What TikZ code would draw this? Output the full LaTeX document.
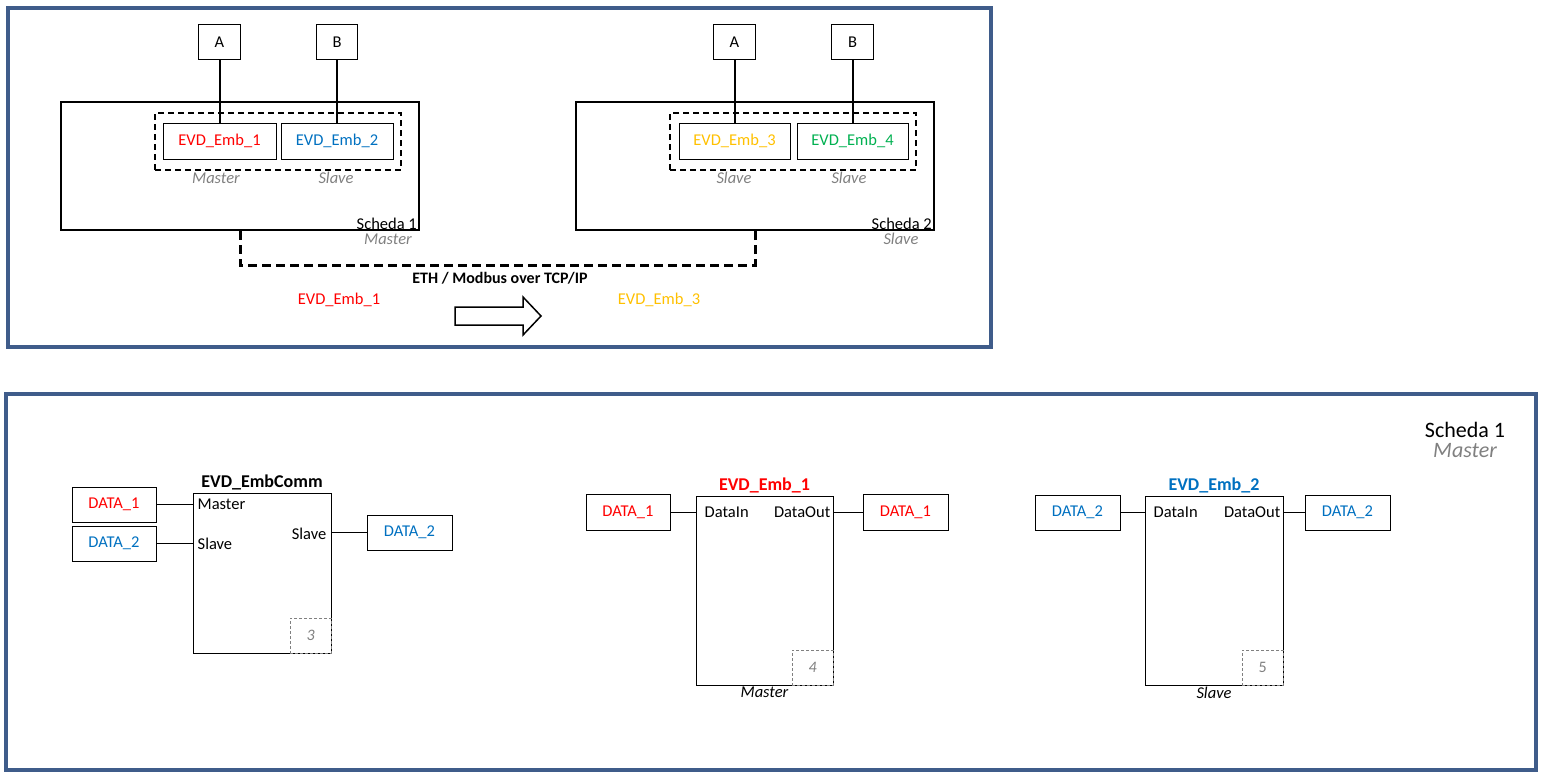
\documentclass[tikz,border=0pt]{standalone}
\usepackage{fontspec}
\setmainfont{Carlito}
\usetikzlibrary{positioning}
\definecolor{frameblue}{RGB}{63,92,138}
\definecolor{embred}{RGB}{255,0,0}
\definecolor{embblue}{RGB}{0,112,192}
\definecolor{embamber}{RGB}{255,192,0}
\definecolor{embgreen}{RGB}{0,176,80}
\definecolor{labelgray}{RGB}{128,128,128}
\tikzset{
  frame/.style={draw=frameblue, line width=4pt},
  box/.style={draw, line width=1pt, inner sep=0pt, font=\fontsize{16.5}{18}\selectfont},
  card/.style={draw, line width=2pt, inner sep=0pt},
  group/.style={draw, line width=2pt, dash pattern=on 6pt off 4pt, inner sep=0pt},
  eth/.style={line width=3pt, dash pattern=on 9pt off 5pt},
  role/.style={text=labelgray, font=\fontsize{16.5}{18}\selectfont\itshape, inner sep=0pt},
  port/.style={inner sep=0pt, font=\fontsize{16.5}{18}\selectfont},
  corner/.style={draw=labelgray, densely dashed, line width=0.7pt, minimum width=41pt, minimum height=35pt, inner sep=0pt, text=labelgray, font=\fontsize{16}{18}\selectfont},
  title/.style={inner sep=2pt, font=\fontsize{18}{20}\selectfont\bfseries}
}
\begin{document}
\begin{tikzpicture}[x=1pt,y=-1pt]
  \useasboundingbox (0,0) rectangle (1541,776);
  % frames
  \draw[frame] (8,8) rectangle (991,347);
  \draw[frame] (6,394) rectangle (1536,770);

  % Scheda 1 (top)
  \node[card, minimum width=358pt, minimum height=128pt] (scheda1) at (240,166) {};
  \node[group, minimum width=246pt, minimum height=57pt] (grp1) at (278,141.5) {};
  \node[box, minimum width=113pt, minimum height=36pt, text=embred] (emb1) at (219.5,141) {EVD\_Emb\_1};
  \node[box, minimum width=112pt, minimum height=36pt, text=embblue] (emb2) at (337,141) {EVD\_Emb\_2};
  \node[box, minimum width=42pt, minimum height=35pt] (a1) at (219.5,42.5) {A};
  \node[box, minimum width=41pt, minimum height=35pt] (b1) at (337,42.5) {B};
  \draw[line width=2pt] (a1) -- (emb1);
  \draw[line width=2pt] (b1) -- (emb2);
  \node[role] at (216,178) {Master};
  \node[role] at (336,178) {Slave};
  \node[port, anchor=south east] at ([xshift=-3pt,yshift=1pt]scheda1.south east) {Scheda 1};
  \node[role] at (388,239) {Master};

  % Scheda 2 (top)
  \node[card, minimum width=358pt, minimum height=128pt] (scheda2) at (755,166) {};
  \node[group, minimum width=246pt, minimum height=57pt] (grp2) at (793,141.5) {};
  \node[box, minimum width=111pt, minimum height=36pt, text=embamber] (emb3) at (734.5,141) {EVD\_Emb\_3};
  \node[box, minimum width=111pt, minimum height=36pt, text=embgreen] (emb4) at (852.5,141) {EVD\_Emb\_4};
  \node[box, minimum width=42pt, minimum height=35pt] (a2) at (734.5,42.5) {A};
  \node[box, minimum width=42pt, minimum height=35pt] (b2) at (852.5,42.5) {B};
  \draw[line width=2pt] (a2) -- (emb3);
  \draw[line width=2pt] (b2) -- (emb4);
  \node[role] at (734,178) {Slave};
  \node[role] at (849,178) {Slave};
  \node[port, anchor=south east] at ([xshift=-3pt,yshift=1pt]scheda2.south east) {Scheda 2};
  \node[role] at (901,239) {Slave};

  % link
  \draw[eth] (scheda1.south) -- ++(0,34) -| (scheda2.south);
  \node[port, font=\fontsize{16}{18}\selectfont\bfseries] (ethlbl) at (500,278) {ETH / Modbus over TCP/IP};
  \node[port, text=embred] (src) at (339,300) {EVD\_Emb\_1};
  \node[port, text=embamber] (dst) at (659,300) {EVD\_Emb\_3};
  \draw[line width=1.5pt, line join=miter] (455,307) -- (523,307) -- (523,297) -- (541,316)
    -- (523,335) -- (523,325) -- (455,325) -- cycle;

  % Scheda 1 (bottom)
  \node[inner sep=0pt, anchor=base, align=center, font=\fontsize{22}{20}\selectfont] (sch1) at (1465,457)
    {Scheda 1\\{\color{labelgray}\itshape Master}};

  % EVD_EmbComm
  \node[box, minimum width=138pt, minimum height=160pt] (comm) at (262,573) {};
  \node[title, anchor=south] at (comm.north) {EVD\_EmbComm};
  \node[corner, anchor=south east, font=\fontsize{16}{18}\selectfont\itshape] at (comm.south east) {3};
  \node[box, minimum width=84pt, minimum height=35pt, text=embred] (d1) at (114,504.5) {DATA\_1};
  \node[box, minimum width=84pt, minimum height=35pt, text=embblue] (d2) at (114,543.5) {DATA\_2};
  \node[box, minimum width=85pt, minimum height=35pt, text=embblue] (d3) at (409.5,532.5) {DATA\_2};
  \draw (d1) -- (d1 -| comm.west);
  \draw (d2) -- (d2 -| comm.west);
  \draw (d3) -- (d3 -| comm.east);
  \node[port, anchor=west] at ([xshift=5pt]comm.west |- d1) {Master};
  \node[port, anchor=west] at ([xshift=5pt]comm.west |- d2) {Slave};
  \node[port, anchor=east] at ([xshift=-5pt,yshift=-1pt]comm.east |- d3) {Slave};

  % EVD_Emb_1
  \node[box, minimum width=137pt, minimum height=189pt] (blk1) at (764.5,590.5) {};
  \node[title, anchor=south, text=embred] at (blk1.north) {EVD\_Emb\_1};
  \node[corner, anchor=south east, font=\fontsize{16}{18}\selectfont\itshape] at (blk1.south east) {4};
  \node[port, anchor=north, font=\fontsize{16.5}{18}\selectfont\itshape] at ([yshift=-1pt]blk1.south) {Master};
  \node[box, minimum width=84pt, minimum height=36pt, text=embred] (in1) at (628,512) {DATA\_1};
  \node[box, minimum width=85pt, minimum height=36pt, text=embred] (out1) at (905.5,512) {DATA\_1};
  \draw (in1) -- (in1 -| blk1.west);
  \draw (out1) -- (out1 -| blk1.east);
  \node[port, anchor=west] at ([xshift=9pt]blk1.west |- in1) {DataIn};
  \node[port, anchor=east] at ([xshift=-3pt]blk1.east |- out1) {DataOut};

  % EVD_Emb_2
  \node[box, minimum width=138pt, minimum height=189pt] (blk2) at (1214,590.5) {};
  \node[title, anchor=south, text=embblue] at (blk2.north) {EVD\_Emb\_2};
  \node[corner, anchor=south east] at (blk2.south east) {5};
  \node[port, anchor=north, font=\fontsize{16.5}{18}\selectfont\itshape] at ([yshift=-1pt]blk2.south) {Slave};
  \node[box, minimum width=85pt, minimum height=35pt, text=embblue] (in2) at (1077.5,512.5) {DATA\_2};
  \node[box, minimum width=85pt, minimum height=35pt, text=embblue] (out2) at (1347.5,512.5) {DATA\_2};
  \draw (in2) -- (in2 -| blk2.west);
  \draw (out2) -- (out2 -| blk2.east);
  \node[port, anchor=west] at ([xshift=9pt]blk2.west |- in2) {DataIn};
  \node[port, anchor=east] at ([xshift=-3pt]blk2.east |- out2) {DataOut};
\end{tikzpicture}
\end{document}
